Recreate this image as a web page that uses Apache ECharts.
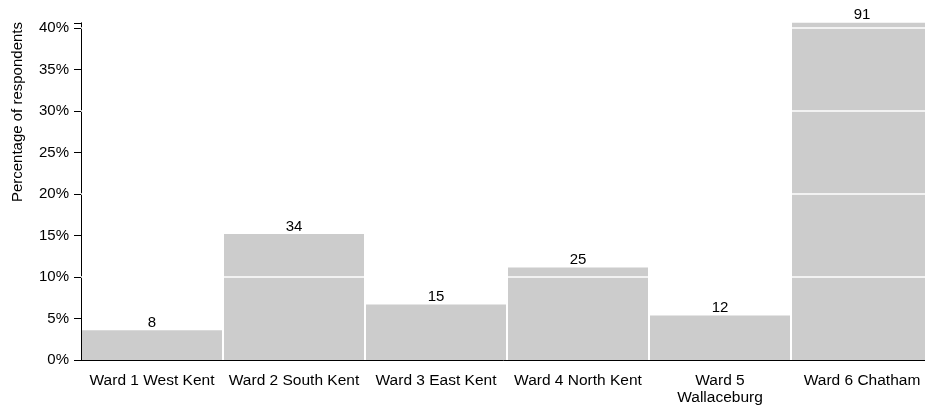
<!DOCTYPE html>
<html>
<head>
<meta charset="utf-8">
<script src="https://cdn.jsdelivr.net/npm/echarts@6/dist/echarts.min.js"></script>
<style>html,body{margin:0;padding:0;background:#fff;overflow:hidden}#c{width:925px;height:406px}</style>
</head>
<body>
<div id="c"></div>
<script>
var categories = ['Ward 1 West Kent', 'Ward 2 South Kent', 'Ward 3 East Kent', 'Ward 4 North Kent', 'Ward 5\nWallaceburg', 'Ward 6 Chatham'];
var counts = [8, 34, 15, 25, 12, 91];
var percents = [3.57, 15.18, 6.70, 11.16, 5.36, 40.63];
var yTicks = [0, 5, 10, 15, 20, 25, 30, 35, 40];
var gridValues = [10, 20, 30, 40];

var FONT = '"Liberation Sans", Arial, Helvetica, sans-serif';
var chart = echarts.init(document.getElementById('c'), null, {renderer: 'canvas'});
chart.setOption({
  animation: false,
  textStyle: {fontFamily: FONT},
  grid: {left: 81, width: 852, top: 22.8, bottom: 46, containLabel: false, outerBoundsMode: 'none'},
  xAxis: {
    type: 'category',
    data: categories,
    axisLine: {lineStyle: {color: '#000', width: 1}},
    axisTick: {alignWithLabel: true, length: 6, lineStyle: {color: '#000'}},
    axisLabel: {color: '#000', fontSize: 15.5, fontFamily: FONT, margin: 12, interval: 0, lineHeight: 17}
  },
  yAxis: {
    type: 'value',
    min: 0,
    max: 40.63,
    interval: 5,
    splitLine: {show: false},
    axisLine: {show: true, lineStyle: {color: '#000', width: 1}},
    axisTick: {show: true, length: 7, lineStyle: {color: '#000'}},
    axisLabel: {color: '#000', fontSize: 15, fontFamily: FONT, margin: 12,
      formatter: function (v) { return yTicks.indexOf(v) >= 0 ? v + '%' : ''; }}
  },
  graphic: [{
    type: 'text',
    x: 18, y: 22,
    rotation: Math.PI / 2,
    style: {text: 'Percentage of respondents', font: '15px ' + FONT, fill: '#000', textAlign: 'right', textVerticalAlign: 'middle'}
  }],
  series: [{
    type: 'bar',
    data: percents,
    barWidth: 140,
    itemStyle: {color: '#cccccc'},
    label: {
      show: true, position: 'top', distance: 0, color: '#000', fontSize: 15, fontFamily: FONT,
      formatter: function (p) { return counts[p.dataIndex]; }
    },
    markLine: {
      silent: true,
      symbol: ['none', 'none'],
      label: {show: false},
      lineStyle: {color: '#ffffff', width: 1.5, type: 'solid'},
      data: gridValues.map(function (v) { return {yAxis: v}; })
    }
  }]
});
</script>
</body>
</html>
